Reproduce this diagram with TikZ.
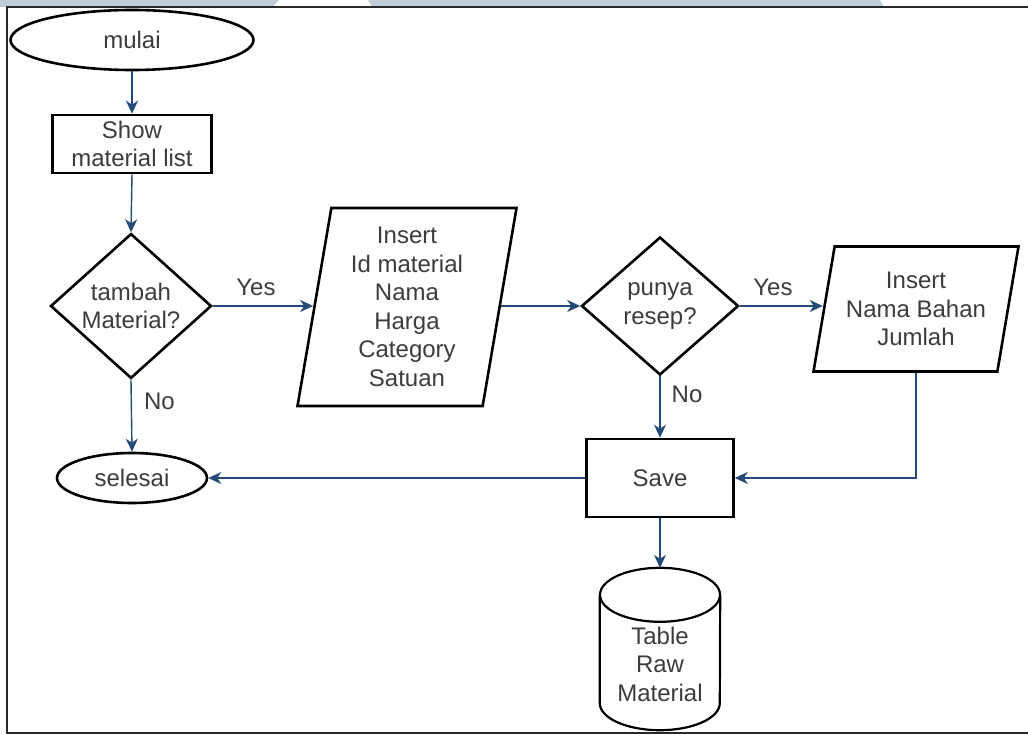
\documentclass[tikz,border=0pt]{standalone}
\usepackage{fontspec}
\setmainfont{Liberation Sans}
\usetikzlibrary{shapes.geometric, arrows.meta}
\definecolor{flowblue}{RGB}{36,74,120}
\definecolor{txtgray}{RGB}{60,60,60}
\definecolor{band}{RGB}{190,205,218}
\definecolor{framegray}{RGB}{40,40,40}

\begin{document}
\begin{tikzpicture}[x=1pt,y=1pt,
  base/.style={draw=black, line width=2.6pt, text=txtgray,
    font=\fontsize{24}{28.5}\selectfont, align=center, inner sep=0pt},
  term/.style={base, ellipse},
  proc/.style={base, rectangle},
  decide/.style={base, diamond},
  io/.style={base, trapezium, trapezium stretches body=true},
  flow/.style={draw=flowblue, line width=1.4pt,
    -{Stealth[length=13pt,width=12pt,inset=4pt]}},
  lbl/.style={text=txtgray, font=\fontsize{24}{28.5}\selectfont, inner sep=0pt, align=center},
  dbline/.style={draw=black, line width=2.2pt}]

\useasboundingbox (0,0) rectangle (1028,-735);

% header bands and page frame
\fill[band] (0,0) -- (279,0) -- (273,-7) -- (0,-7) -- cycle;
\fill[band] (368,0) -- (880,0) -- (884,-7) -- (372,-7) -- cycle;
\draw[framegray, line width=1.8pt] (1028,-7) -- (7,-7) -- (7,-733) -- (1028,-733);

% nodes
\node[term, minimum width=243pt, minimum height=60pt] (start) at (132,-40) {mulai};
\node[proc, minimum width=159pt, minimum height=58pt] (show) at (132,-144) {Show\\material list};
\node[decide, minimum width=161pt, minimum height=138pt] (d1) at (131,-306) {tambah\\Material?};
\node[io, trapezium left angle=78, trapezium right angle=102,
      minimum width=219pt, minimum height=198pt] (p1) at (407,-307)
      {Insert\\Id material\\Nama\\Harga\\Category\\Satuan};
\node[decide, minimum width=157pt, minimum height=138pt] (d2) at (660,-306) {punya\\resep?};
\node[io, trapezium left angle=74, trapezium right angle=106,
      minimum width=205pt, minimum height=125pt] (p2) at (916,-309)
      {Insert\\Nama Bahan\\Jumlah};
\node[proc, minimum width=147pt, minimum height=78pt] (save) at (660,-478) {Save};
\node[term, minimum width=150pt, minimum height=50pt] (sel) at (132,-478) {selesai};

% database cylinder
\node[minimum width=120pt, minimum height=162pt, inner sep=0pt] (db) at (660,-649) {};
\draw[dbline] ([yshift=-27pt]db.north) ellipse[x radius=60pt, y radius=27pt];
\draw[dbline] ([yshift=-27pt]db.north west) -- ([yshift=27pt]db.south west)
  arc[start angle=180, end angle=360, x radius=60pt, y radius=27pt]
  -- ([yshift=-27pt]db.north east);
\node[lbl] (dbt) at (660,-664) {Table\\Raw\\Material};

% connectors
\draw[flow] (start.south) -- (show.north);
\draw[flow] (show.south) -- (d1.north);
\draw[flow] (d1.east) -- node[lbl, above=10pt, pos=0.43] {Yes} (p1.west |- d1.east);
\draw[flow] (d1.south) -- node[lbl, right=12pt, pos=0.3] {No} (sel.north);
\draw[flow] (p1.east |- d2.west) -- (d2.west);
\draw[flow] (d2.east) -- node[lbl, above=10pt, pos=0.4] {Yes} (p2.west |- d2.east);
\draw[flow] (d2.south) -- node[lbl, right=11pt, pos=0.3] {No} (save.north);
\draw[flow] (p2.center |- p2.south) |- (save.east);
\draw[flow] (save.west) -- (sel.east);
\draw[flow] (save.south) -- (db.north);

\end{tikzpicture}
\end{document}
